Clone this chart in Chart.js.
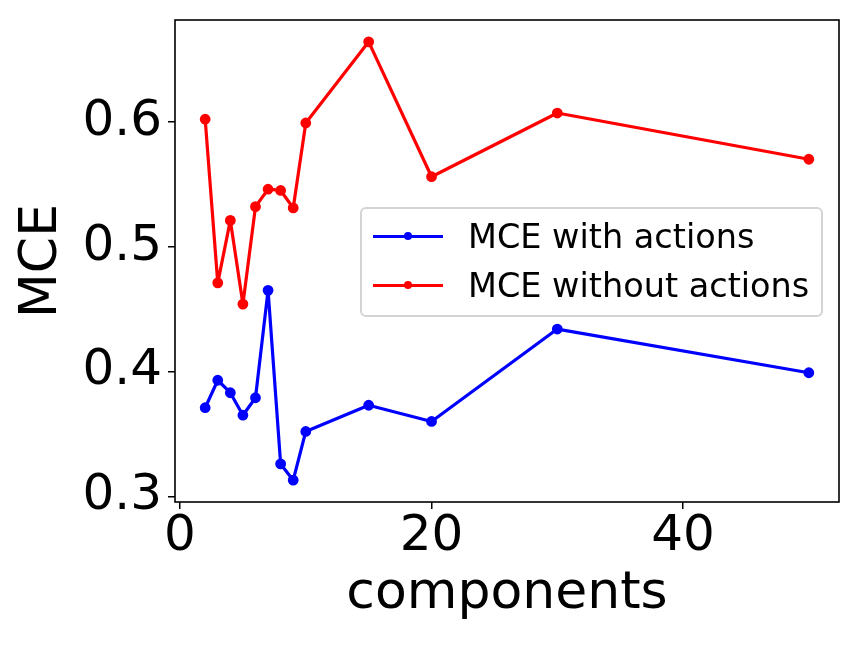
<!DOCTYPE html>
<html>
<head>
<meta charset="utf-8">
<script src="https://cdn.jsdelivr.net/npm/chart.js@4.4.1/dist/chart.umd.min.js"></script>
<style>
  body { margin: 0; background: #fff; }
  #wrap { position: relative; width: 861px; height: 646px; font-family: "DejaVu Sans", sans-serif; }
  #legend {
    position: absolute; left: 360px; top: 207px; width: 459px; height: 106px;
    border: 2px solid #d4d4d4; border-radius: 6px; background: rgba(255,255,255,0.8);
  }
  .row { position: absolute; left: 0; height: 44px; display: flex; align-items: center; }
  .swatch { position: relative; width: 70px; height: 3px; margin-left: 11px; }
  .dot { position: absolute; left: 31px; top: -2.5px; width: 8px; height: 8px; border-radius: 50%; }
  .txt { margin-left: 25px; font-size: 33.5px; color: #000; white-space: nowrap; }
</style>
</head>
<body>
<div id="wrap">
  <canvas id="myChart" width="861" height="646"></canvas>
  <div id="legend"></div>
</div>
<script>
// data
const components = [2, 3, 4, 5, 6, 7, 8, 9, 10, 15, 20, 30, 50];
const mceWithActions = [0.371, 0.393, 0.383, 0.365, 0.379, 0.465, 0.326, 0.313, 0.352, 0.373, 0.360, 0.434, 0.399];
const mceWithoutActions = [0.602, 0.471, 0.521, 0.454, 0.532, 0.546, 0.545, 0.531, 0.599, 0.664, 0.556, 0.607, 0.570];
const seriesLabels = ['MCE with actions', 'MCE without actions'];
const seriesColors = ['#0000ff', '#ff0000'];
const xTicks = [0, 20, 40];
const yTicks = [0.3, 0.4, 0.5, 0.6];

const toPoints = (ys) => components.map((x, i) => ({ x: x, y: ys[i] }));

// box around the plot area, like matplotlib spines
const frame = {
    id: 'frame',
    afterDatasetsDraw(chart) {
        const a = chart.chartArea;
        const c = chart.ctx;
        c.save();
        c.strokeStyle = '#000';
        c.lineWidth = 1.6;
        c.strokeRect(a.left, a.top, a.right - a.left, a.bottom - a.top);
        c.restore();
    }
};

const ctx = document.getElementById('myChart');
const chart = new Chart(ctx, {
    type: 'line',
    data: {
        datasets: [mceWithActions, mceWithoutActions].map((ys, i) => ({
            label: seriesLabels[i],
            data: toPoints(ys),
            borderColor: seriesColors[i],
            backgroundColor: seriesColors[i],
            borderWidth: 3.2,
            borderJoinStyle: 'round',
            borderCapStyle: 'round',
            pointRadius: 3.8,
            pointHoverRadius: 3.8,
            tension: 0
        }))
    },
    options: {
        responsive: false,
        animation: false,
        devicePixelRatio: 1,
        layout: { padding: { top: 20, right: 22, left: 0, bottom: 0 } },
        plugins: { legend: { display: false }, tooltip: { enabled: false } },
        scales: {
            x: {
                type: 'linear',
                min: -0.4,
                max: 52.4,
                afterBuildTicks: (s) => { s.ticks = xTicks.map(v => ({ value: v })); },
                afterFit: (s) => { s.height = 144; s.paddingLeft = 0; s.paddingRight = 0; },
                grid: { drawOnChartArea: false, tickLength: 7, color: '#000', lineWidth: 1.5 },
                border: { display: false },
                ticks: {
                    color: '#000', padding: 3, maxRotation: 0,
                    font: { family: 'DejaVu Sans', size: 50, lineHeight: 1 },
                    callback: (v) => String(v)
                },
                title: {
                    display: true, text: 'components', color: '#000',
                    font: { family: 'DejaVu Sans', size: 52, lineHeight: 1 },
                    padding: { top: 0, bottom: 26 }
                }
            },
            y: {
                type: 'linear',
                min: 0.2955,
                max: 0.6815,
                afterBuildTicks: (s) => { s.ticks = yTicks.map(v => ({ value: v })); },
                afterFit: (s) => { s.width = 175; s.paddingTop = 0; s.paddingBottom = 0; },
                grid: { drawOnChartArea: false, tickLength: 7, color: '#000', lineWidth: 1.5 },
                border: { display: false },
                ticks: {
                    color: '#000', padding: 6,
                    font: { family: 'DejaVu Sans', size: 50, lineHeight: 1 },
                    callback: (v) => v.toFixed(1)
                },
                title: {
                    display: true, text: 'MCE', color: '#000',
                    font: { family: 'DejaVu Sans', size: 52, lineHeight: 1 },
                    padding: { top: 16, bottom: 0 }
                }
            }
        }
    },
    plugins: [frame]
});

// legend inside the axes, built from the datasets
const legend = document.getElementById('legend');
chart.data.datasets.forEach((ds, i) => {
    const row = document.createElement('div');
    row.className = 'row';
    row.style.top = (5 + i * 49) + 'px';
    const sw = document.createElement('div');
    sw.className = 'swatch';
    sw.style.background = ds.borderColor;
    const dot = document.createElement('div');
    dot.className = 'dot';
    dot.style.background = ds.borderColor;
    sw.appendChild(dot);
    const txt = document.createElement('span');
    txt.className = 'txt';
    txt.textContent = ds.label;
    row.appendChild(sw);
    row.appendChild(txt);
    legend.appendChild(row);
});
</script>
</body>
</html>
